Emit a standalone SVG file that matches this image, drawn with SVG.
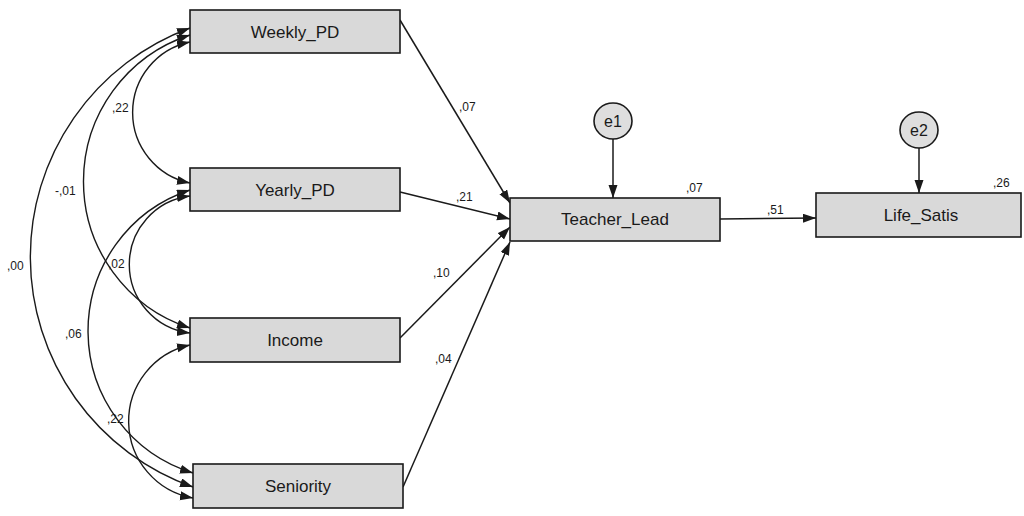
<svg xmlns="http://www.w3.org/2000/svg" width="1024" height="516" viewBox="0 0 1024 516">
<style>
.box{fill:#d9d9d9;stroke:#1a1a1a;stroke-width:1.6}
.err{fill:#dedede;stroke:#1a1a1a;stroke-width:1.6}
.lbl{font-family:"Liberation Sans",Arial,sans-serif;font-size:17px;fill:#1a1a1a;text-anchor:middle}
.elbl{font-family:"Liberation Sans",Arial,sans-serif;font-size:16px;fill:#1a1a1a;text-anchor:middle}
.num{font-family:"Liberation Sans",Arial,sans-serif;font-size:12px;fill:#1a1a1a}
.path{fill:none;stroke:#1a1a1a;stroke-width:1.5;marker-end:url(#ah)}
.cov{fill:none;stroke:#1a1a1a;stroke-width:1.4;marker-end:url(#ah);marker-start:url(#ahs)}
</style>
<defs>
<marker id="ah" markerUnits="userSpaceOnUse" markerWidth="14" markerHeight="10" refX="13" refY="4.5" orient="auto">
<path d="M0,0 L13,4.5 L0,9 z" fill="#1a1a1a"/>
</marker>
<marker id="ahs" markerUnits="userSpaceOnUse" markerWidth="14" markerHeight="10" refX="13" refY="4.5" orient="auto-start-reverse">
<path d="M0,0 L13,4.5 L0,9 z" fill="#1a1a1a"/>
</marker>
</defs>
<rect width="1024" height="516" fill="#ffffff"/>
<g id="connectors">
<path class="cov" d="M190,42 A72,72 0 0 0 190,183"/>
<path class="cov" d="M190,35 A154,154 0 0 0 190,328"/>
<path class="cov" d="M190,28 A244,244 0 0 0 193,487"/>
<path class="cov" d="M190,196 A69,69 0 0 0 190,333"/>
<path class="cov" d="M190,190 A148.5,148.5 0 0 0 193,473"/>
<path class="cov" d="M190,345 A78,78 0 0 0 193,498"/>
<path class="path" d="M400,20 L510,203"/>
<path class="path" d="M400,192 L510,219"/>
<path class="path" d="M400,338 L510,227"/>
<path class="path" d="M403,487 L510,242"/>
<path class="path" d="M613,139 L613,198"/>
<path class="path" d="M919,148 L919,193"/>
<path class="path" d="M720,219 L816,218"/>
<text class="num" x="112" y="112">,22</text>
<text class="num" x="55" y="195">-,01</text>
<text class="num" x="7" y="270">,00</text>
<text class="num" x="108" y="268">,02</text>
<text class="num" x="65" y="338">,06</text>
<text class="num" x="107" y="423">,22</text>
<text class="num" x="459" y="111">,07</text>
<text class="num" x="456" y="201">,21</text>
<text class="num" x="433" y="277">,10</text>
<text class="num" x="435" y="363">,04</text>
<text class="num" x="686" y="192">,07</text>
<text class="num" x="767" y="214">,51</text>
<text class="num" x="993" y="187">,26</text>
</g>
<g id="Weekly_PD">
<rect class="box" x="190" y="10" width="210" height="43"/>
<text class="lbl" x="295" y="37.5">Weekly_PD</text>
</g>
<g id="Yearly_PD">
<rect class="box" x="190" y="168" width="210" height="43"/>
<text class="lbl" x="295" y="195.5">Yearly_PD</text>
</g>
<g id="Income">
<rect class="box" x="190" y="318" width="210" height="44"/>
<text class="lbl" x="295" y="346">Income</text>
</g>
<g id="Seniority">
<rect class="box" x="193" y="464" width="210" height="44"/>
<text class="lbl" x="298" y="492">Seniority</text>
</g>
<g id="Teacher_Lead">
<rect class="box" x="510" y="198" width="210" height="43"/>
<text class="lbl" x="615" y="225">Teacher_Lead</text>
</g>
<g id="Life_Satis">
<rect class="box" x="816" y="193" width="205" height="44"/>
<text class="lbl" x="921" y="221">Life_Satis</text>
</g>
<g id="e1">
<ellipse class="err" cx="613" cy="121" rx="19" ry="18"/>
<text class="elbl" x="613" y="127">e1</text>
</g>
<g id="e2">
<ellipse class="err" cx="919" cy="130" rx="19" ry="18"/>
<text class="elbl" x="919" y="136">e2</text>
</g>
</svg>
